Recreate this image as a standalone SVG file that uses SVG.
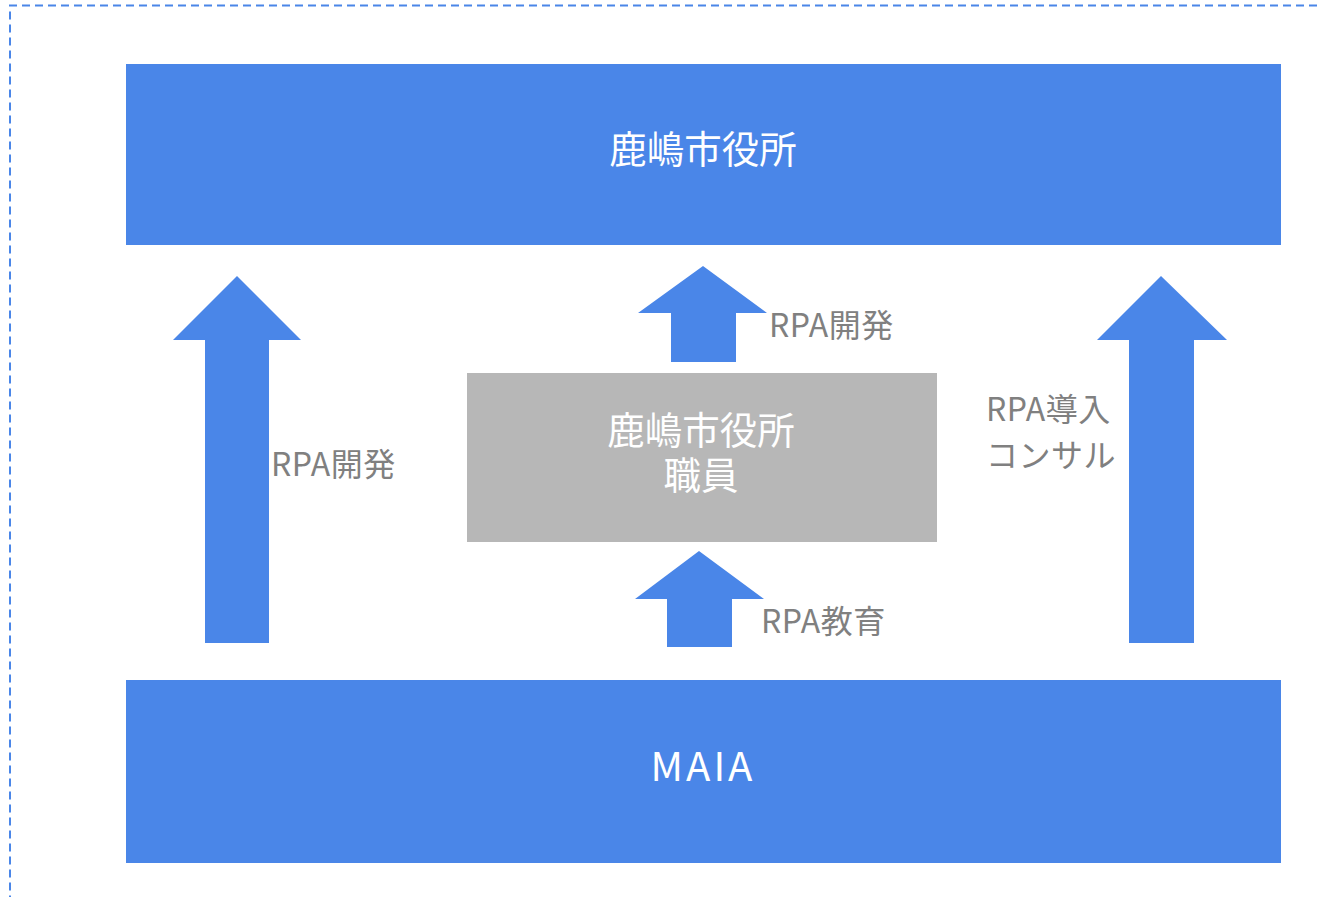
<svg xmlns="http://www.w3.org/2000/svg" width="1317" height="897" viewBox="0 0 1317 897">
<style>
.box{fill:#4A86E8}
.gray{fill:#B7B7B7}
.arrow{fill:#4A86E8}
.t{font-family:"Noto Sans CJK JP","Noto Sans",sans-serif;fill:#FFFFFF;font-size:37.5px;text-anchor:middle}
.lbl{font-family:"Noto Sans CJK JP","Noto Sans",sans-serif;fill:#808080;font-size:32px;letter-spacing:0.5px}
.frame{fill:none;stroke:#4A86E8;stroke-width:2;stroke-dasharray:8 5}
</style>
<rect width="1317" height="897" fill="#FFFFFF"/>
<path class="frame" d="M1317 5.5 H10 V897"/>
<g id="city-office">
<rect class="box" x="126" y="64" width="1155" height="181"/>
<text class="t" x="703" y="163">鹿嶋市役所</text>
</g>
<g id="maia">
<rect class="box" x="126" y="680" width="1155" height="183"/>
<text class="t" x="703" y="781" style="font-size:40px;letter-spacing:3px">MAIA</text>
</g>
<g id="staff">
<rect class="gray" x="467" y="373" width="470" height="169"/>
<text class="t" x="701" y="444">鹿嶋市役所<tspan x="701" dy="45">職員</tspan></text>
</g>
<g id="connectors">
<polygon class="arrow" points="237,276 301,340 269,340 269,643 205,643 205,340 173,340"/>
<polygon class="arrow" points="1161,276 1227,340 1194,340 1194,643 1129,643 1129,340 1097,340"/>
<polygon class="arrow" points="703,266 767,313 736,313 736,362 671,362 671,313 638,313"/>
<polygon class="arrow" points="699,551 764,599 732,599 732,647 667,647 667,599 635,599"/>
<text class="lbl" x="271" y="476">RPA開発</text>
<text class="lbl" x="769" y="337">RPA開発</text>
<text class="lbl" x="986" y="421">RPA導入</text>
<text class="lbl" x="986" y="467">コンサル</text>
<text class="lbl" x="761" y="633">RPA教育</text>
</g>
</svg>
